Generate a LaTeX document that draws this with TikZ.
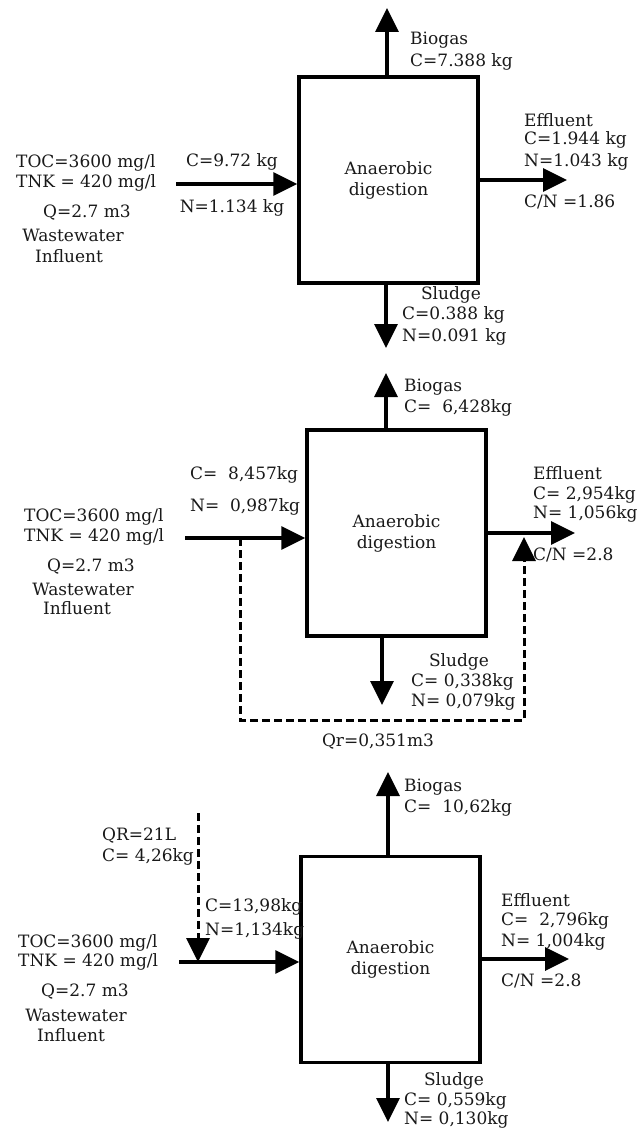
\documentclass[tikz,border=0pt]{standalone}
\usepackage{fontspec}
\setmainfont{DejaVu Serif}
\usetikzlibrary{arrows.meta}
\begin{document}
\begin{tikzpicture}[x=1pt,y=-1pt,
  lbl/.style={inner sep=0pt, font=\fontsize{17}{20}\selectfont, text=black!90},
  box/.style={draw, line width=3.5pt, minimum width=179pt, minimum height=206pt, inner sep=0pt, align=center, font=\fontsize{17}{21}\selectfont, text=black!90},
  flow/.style={line width=3.5pt, -{Triangle[length=24pt,width=23pt]}},
  recyc/.style={line width=3pt, dash pattern=on 8pt off 4pt, -{Triangle[length=24pt,width=23pt]}}
]
\useasboundingbox[fill=white] (0,0) rectangle (637,1132);

% ---------------- Panel 1 ----------------
\node[box] (b1) at (388.5,180) {Anaerobic\\digestion};
\coordinate (in1) at (176,184);
\coordinate (bg1) at (387,8);
\coordinate (ef1) at (567,180);
\coordinate (sl1) at (386,348);
\draw[flow] (in1) -- (in1 -| b1.west);
\draw[flow] (bg1 |- b1.north) -- (bg1);
\draw[flow] (ef1 -| b1.east) -- (ef1);
\draw[flow] (sl1 |- b1.south) -- (sl1);
\node[lbl, anchor=west] (p1toc) at (16,163) {TOC=3600 mg/l};
\node[lbl, anchor=west] (p1tnk) at (16,183) {TNK = 420 mg/l};
\node[lbl] (p1q) at (87,213) {Q=2.7 m3};
\node[lbl] (p1ww) at (73,235) {Wastewater};
\node[lbl] (p1inf) at (69,256) {Influent};
\node[lbl] (p1c) at (232,162) {C=9.72 kg};
\node[lbl] (p1n) at (232,208) {N=1.134 kg};
\node[lbl, anchor=west] (p1bg) at (410,40) {Biogas};
\node[lbl, anchor=west] (p1bgc) at (410,62) {C=7.388 kg};
\node[lbl, anchor=west] (p1ef) at (524,120) {Effluent};
\node[lbl, anchor=west] (p1efc) at (524,140) {C=1.944 kg};
\node[lbl, anchor=west] (p1efn) at (524,162) {N=1.043 kg};
\node[lbl, anchor=west] (p1cn) at (524,202) {C/N =1.86};
\node[lbl] (p1sl) at (451,295) {Sludge};
\node[lbl, anchor=west] (p1slc) at (402,315) {C=0.388 kg};
\node[lbl, anchor=west] (p1sln) at (402,337) {N=0.091 kg};

% ---------------- Panel 2 ----------------
\node[box] (b2) at (396.5,533) {Anaerobic\\digestion};
\coordinate (in2) at (185,538);
\coordinate (bg2) at (386,373);
\coordinate (ef2) at (575,533);
\coordinate (sl2) at (382,705);
\coordinate (r2a) at (240,538);
\coordinate (r2b) at (524,720);
\coordinate (r2tip) at (524,537);
\draw[flow] (in2) -- (in2 -| b2.west);
\draw[flow] (bg2 |- b2.north) -- (bg2);
\draw[flow] (ef2 -| b2.east) -- (ef2);
\draw[flow] (sl2 |- b2.south) -- (sl2);
\draw[recyc] (r2a) |- (r2b) -- (r2tip);
\node[lbl, anchor=west] (p2toc) at (24,517) {TOC=3600 mg/l};
\node[lbl, anchor=west] (p2tnk) at (24,537) {TNK = 420 mg/l};
\node[lbl] (p2q) at (91,567) {Q=2.7 m3};
\node[lbl] (p2ww) at (83,589) {Wastewater};
\node[lbl] (p2inf) at (77,608) {Influent};
\node[lbl, anchor=west] (p2c) at (190,475) {C=~~8,457kg};
\node[lbl, anchor=west] (p2n) at (190,507) {N=~~0,987kg};
\node[lbl, anchor=west] (p2bg) at (404,387) {Biogas};
\node[lbl, anchor=west] (p2bgc) at (404,408) {C=~~6,428kg};
\node[lbl, anchor=west] (p2ef) at (533,473) {Effluent};
\node[lbl, anchor=west] (p2efc) at (533,495) {C= 2,954kg};
\node[lbl, anchor=west] (p2efn) at (533,514) {N= 1,056kg};
\node[lbl, anchor=west] (p2cn) at (533,555) {C/N =2.8};
\node[lbl] (p2sl) at (459,662) {Sludge};
\node[lbl, anchor=west] (p2slc) at (411,682) {C= 0,338kg};
\node[lbl, anchor=west] (p2sln) at (411,702) {N= 0,079kg};
\node[lbl] (p2qr) at (378,742) {Qr=0,351m3};

% ---------------- Panel 3 ----------------
\node[box] (b3) at (390.5,959.5) {Anaerobic\\digestion};
\coordinate (in3) at (179,962);
\coordinate (bg3) at (388,772);
\coordinate (ef3) at (569,959);
\coordinate (sl3) at (388,1122);
\coordinate (r3a) at (198,813);
\draw[flow] (in3) -- (in3 -| b3.west);
\draw[flow] (bg3 |- b3.north) -- (bg3);
\draw[flow] (ef3 -| b3.east) -- (ef3);
\draw[flow] (sl3 |- b3.south) -- (sl3);
\draw[recyc] (r3a) -- (r3a |- in3);
\node[lbl, anchor=west] (p3qr) at (102,836) {QR=21L};
\node[lbl, anchor=west] (p3qrc) at (102,857) {C= 4,26kg};
\node[lbl, anchor=west] (p3c) at (205,907) {C=13,98kg};
\node[lbl, anchor=west] (p3n) at (205,931) {N=1,134kg};
\node[lbl, anchor=west] (p3toc) at (18,943) {TOC=3600 mg/l};
\node[lbl, anchor=west] (p3tnk) at (18,962) {TNK = 420 mg/l};
\node[lbl] (p3q) at (85,992) {Q=2.7 m3};
\node[lbl] (p3ww) at (76,1015) {Wastewater};
\node[lbl] (p3inf) at (71,1035) {Influent};
\node[lbl, anchor=west] (p3bg) at (404,787) {Biogas};
\node[lbl, anchor=west] (p3bgc) at (404,808) {C=~~10,62kg};
\node[lbl, anchor=west] (p3ef) at (501,900) {Effluent};
\node[lbl, anchor=west] (p3efc) at (501,921) {C=~~2,796kg};
\node[lbl, anchor=west] (p3efn) at (501,942) {N= 1,004kg};
\node[lbl, anchor=west] (p3cn) at (501,981) {C/N =2.8};
\node[lbl] (p3sl) at (454,1081) {Sludge};
\node[lbl, anchor=west] (p3slc) at (404,1101) {C= 0,559kg};
\node[lbl, anchor=west] (p3sln) at (404,1120) {N= 0,130kg};
\end{tikzpicture}
\end{document}
